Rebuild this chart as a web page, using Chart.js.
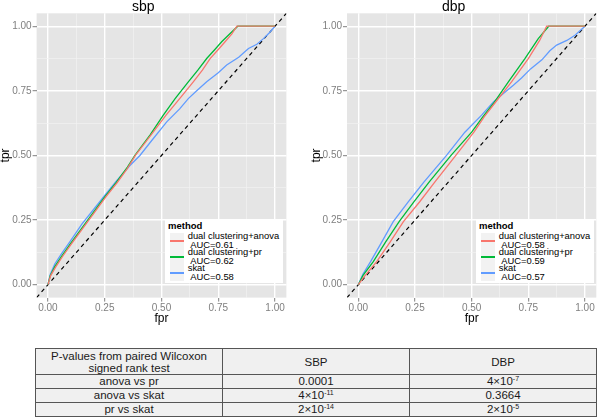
<!DOCTYPE html>
<html>
<head>
<meta charset="utf-8">
<script src="https://cdn.jsdelivr.net/npm/chart.js@4.4.1/dist/chart.umd.min.js"></script>
<style>
html, body { margin: 0; padding: 0; background: #fff; }
body { width: 600px; height: 418px; position: relative; overflow: hidden; font-family: "Liberation Sans", Arial, sans-serif; }
.panel { position: absolute; top: 0; height: 330px; }
.legend { position: absolute; width: 118px; height: 63px; background: #fff; color: #000; }
.legend .ltitle { position: absolute; left: 3px; top: 0; font-size: 9.5px; font-weight: bold; line-height: 12px; }
.legend .lkey { position: absolute; left: 5px; width: 14px; height: 16px; background: #F2F2F2; }
.legend .lline { position: absolute; left: 0; right: 0; top: 7.4px; height: 1.3px; }
.legend .ltext { position: absolute; left: 22.7px; font-size: 9.4px; line-height: 8.6px; white-space: nowrap; }
table { position: absolute; left: 35px; top: 348px; width: 562px; border-collapse: collapse; table-layout: fixed; font-size: 11.5px; color: #1a1a1a; }
td { border: 1px solid #555; background: #F0F0F0; text-align: center; padding: 0; height: 13px; line-height: 13px; white-space: nowrap; }
tr.head td { height: 25px; line-height: 12px; }
.sup { font-size: 7px; position: relative; top: -4px; line-height: 0; }
</style>
</head>
<body>
<div class="panel" id="wrapSbp" style="left:0;width:300px"><canvas id="chartSbp"></canvas></div>
<div class="panel" id="wrapDbp" style="left:311px;width:289px"><canvas id="chartDbp"></canvas></div>
<div class="legend" id="legendSbp" style="left:165px;top:220px"></div>
<div class="legend" id="legendDbp" style="left:476px;top:220px"></div>
<table id="pTable"></table>
<script>
// methods, colours and AUC values shown in the legends
var methods = ['dual clustering+anova', 'dual clustering+pr', 'skat'];
var colors = ['#F8766D', '#00BA38', '#619CFF'];
var sbpAuc = [0.61, 0.62, 0.58];
var dbpAuc = [0.58, 0.59, 0.57];

// axis ticks (minor ones only get a grid line)
var gridTicks = [0, 0.125, 0.25, 0.375, 0.5, 0.625, 0.75, 0.875, 1];
var diagonal = [-0.05, 1.05];

// ROC curves: sbp
var sbpAnovaFpr = [0, 0.012, 0.035, 0.065, 0.105, 0.155, 0.205, 0.255, 0.305, 0.35, 0.385, 0.45, 0.52, 0.58, 0.64, 0.68, 0.714, 0.75, 0.78, 0.81, 0.832, 1];
var sbpAnovaTpr = [0, 0.035, 0.07, 0.11, 0.16, 0.22, 0.28, 0.34, 0.395, 0.45, 0.5, 0.575, 0.656, 0.72, 0.785, 0.83, 0.875, 0.91, 0.94, 0.97, 1, 1];
var sbpPrFpr = [0, 0.01, 0.03, 0.06, 0.1, 0.15, 0.2, 0.25, 0.3, 0.35, 0.383, 0.45, 0.508, 0.56, 0.618, 0.66, 0.699, 0.735, 0.765, 0.8, 0.836, 1];
var sbpPrTpr = [0, 0.035, 0.07, 0.11, 0.16, 0.22, 0.28, 0.34, 0.395, 0.455, 0.5, 0.58, 0.656, 0.72, 0.785, 0.83, 0.875, 0.91, 0.94, 0.97, 1, 1];
var sbpSkatFpr = [0, 0.01, 0.03, 0.06, 0.1, 0.15, 0.2, 0.25, 0.3, 0.33, 0.36, 0.405, 0.45, 0.523, 0.58, 0.618, 0.655, 0.699, 0.75, 0.787, 0.84, 0.883, 0.92, 0.949, 0.975, 1];
var sbpSkatTpr = [0, 0.04, 0.08, 0.12, 0.17, 0.235, 0.29, 0.345, 0.4, 0.43, 0.46, 0.5, 0.55, 0.63, 0.68, 0.72, 0.75, 0.785, 0.82, 0.85, 0.88, 0.914, 0.93, 0.952, 0.975, 1];

// ROC curves: dbp
var dbpAnovaFpr = [0, 0.025, 0.081, 0.14, 0.199, 0.27, 0.338, 0.431, 0.51, 0.556, 0.6, 0.676, 0.75, 0.8, 0.831, 1];
var dbpAnovaTpr = [0, 0.03, 0.089, 0.165, 0.244, 0.32, 0.398, 0.501, 0.59, 0.65, 0.7, 0.785, 0.875, 0.945, 1, 1];
var dbpPrFpr = [0, 0.02, 0.066, 0.12, 0.18, 0.245, 0.313, 0.41, 0.5, 0.55, 0.595, 0.662, 0.735, 0.794, 0.84, 1];
var dbpPrTpr = [0, 0.035, 0.089, 0.165, 0.244, 0.32, 0.398, 0.501, 0.59, 0.65, 0.7, 0.785, 0.875, 0.952, 1, 1];
var dbpSkatFpr = [0, 0.02, 0.054, 0.1, 0.154, 0.221, 0.29, 0.39, 0.47, 0.544, 0.596, 0.64, 0.684, 0.72, 0.76, 0.81, 0.845, 0.875, 0.92, 0.956, 1];
var dbpSkatTpr = [0, 0.04, 0.089, 0.16, 0.244, 0.321, 0.398, 0.501, 0.59, 0.656, 0.707, 0.74, 0.772, 0.8, 0.835, 0.87, 0.905, 0.927, 0.945, 0.965, 1];

// p-value table
var comparisons = ['anova vs pr', 'anova vs skat', 'pr vs skat'];
var sbpP = ['0.0001', '4e-11', '2e-14'];
var dbpP = ['4e-7', '0.3664', '2e-5'];

Chart.defaults.font.family = '"Liberation Sans", Arial, sans-serif';

var isMajor = function(v) {
    return Math.abs(v * 4 - Math.round(v * 4)) < 1e-6;
};

var toPoints = function(xs, ys) {
    return xs.map(function(x, i) { return {x: x, y: ys[i]}; });
};

// grey ggplot-like panel behind the grid
var panelBg = {
    id: 'panelBg',
    beforeDraw: function(chart) {
        var a = chart.chartArea, ctx = chart.ctx;
        ctx.save();
        ctx.fillStyle = '#E5E5E5';
        ctx.fillRect(a.left, a.top, a.right - a.left, a.bottom - a.top);
        ctx.restore();
    }
};

var axis = function(title, size, isX) {
    return {
        type: 'linear',
        min: -0.05,
        max: 1.05,
        afterBuildTicks: function(s) {
            s.ticks = gridTicks.map(function(v) { return {value: v}; });
        },
        afterFit: function(s) {
            if (isX) { s.height = size; } else { s.width = size; }
        },
        border: {display: false},
        grid: {
            color: function(c) { return c.tick && isMajor(c.tick.value) ? '#FFFFFF' : '#F2F2F2'; },
            lineWidth: function(c) { return c.tick && isMajor(c.tick.value) ? 1.4 : 0.7; },
            tickColor: function(c) { return c.tick && isMajor(c.tick.value) ? '#7F7F7F' : 'rgba(0,0,0,0)'; },
            tickLength: 4,
            tickWidth: 1
        },
        ticks: {
            autoSkip: false,
            maxRotation: 0,
            padding: 1,
            color: '#7F7F7F',
            font: {size: 10},
            callback: function(v) { return isMajor(v) ? v.toFixed(2) : ''; }
        },
        title: {
            display: true,
            text: title,
            color: '#000',
            font: {size: 12, lineHeight: isX ? 1.2 : 0.9},
            padding: isX ? {top: 0, bottom: 4} : {top: 0, bottom: 0}
        }
    };
};

var makeChart = function(id, name, series, yWidth, padRight) {
    var datasets = series.map(function(s, i) {
        return {
            label: methods[i],
            data: toPoints(s[0], s[1]),
            showLine: true,
            borderColor: colors[i],
            borderWidth: 1.3,
            pointRadius: 0,
            tension: 0
        };
    });
    datasets.push({
        label: 'diagonal',
        data: toPoints(diagonal, diagonal),
        showLine: true,
        borderColor: '#000',
        borderWidth: 1.2,
        borderDash: [4, 3.5],
        pointRadius: 0
    });
    return new Chart(document.getElementById(id), {
        type: 'scatter',
        data: {datasets: datasets},
        options: {
            responsive: true,
            maintainAspectRatio: false,
            animation: false,
            layout: {padding: {left: 0, right: padRight, top: 0, bottom: 0}},
            plugins: {
                legend: {display: false},
                tooltip: {enabled: false},
                title: {
                    display: true,
                    text: name,
                    color: '#000',
                    font: {size: 14, weight: 'normal', lineHeight: 0.95},
                    padding: {top: 0, bottom: 0}
                }
            },
            scales: {
                x: axis('fpr', 32.4, true),
                y: axis('tpr', yWidth, false)
            }
        },
        plugins: [panelBg]
    });
};

var buildLegend = function(el, auc) {
    var html = '<div class="ltitle">method</div>';
    for (var i = 0; i < methods.length; i++) {
        var top = 13 + i * 16;
        html += '<div class="lkey" style="top:' + top + 'px"><div class="lline" style="background:' + colors[i] + '"></div></div>' +
            '<div class="ltext" style="top:' + (top - 0.6) + 'px">' + methods[i] + '<br>&nbsp;AUC=' + auc[i].toFixed(2) + '</div>';
    }
    el.innerHTML = html;
};

var formatP = function(p) {
    if (p.indexOf('e') < 0) { return p; }
    var parts = p.split('e');
    return parts[0] + '\u00d710<span class="sup">' + parts[1] + '</span>';
};

var buildTable = function() {
    var html = '<tr class="head"><td>P-values from paired Wilcoxon<br>signed rank test</td><td>SBP</td><td>DBP</td></tr>';
    for (var i = 0; i < comparisons.length; i++) {
        html += '<tr><td>' + comparisons[i] + '</td><td>' + formatP(sbpP[i]) + '</td><td>' + formatP(dbpP[i]) + '</td></tr>';
    }
    document.getElementById('pTable').innerHTML = html;
};

makeChart('chartSbp', 'sbp', [[sbpAnovaFpr, sbpAnovaTpr], [sbpPrFpr, sbpPrTpr], [sbpSkatFpr, sbpSkatTpr]], 36.6, 13.6);
makeChart('chartDbp', 'dbp', [[dbpAnovaFpr, dbpAnovaTpr], [dbpPrFpr, dbpPrTpr], [dbpSkatFpr, dbpSkatTpr]], 36, 3.7);
buildLegend(document.getElementById('legendSbp'), sbpAuc);
buildLegend(document.getElementById('legendDbp'), dbpAuc);
buildTable();
</script>
</body>
</html>
